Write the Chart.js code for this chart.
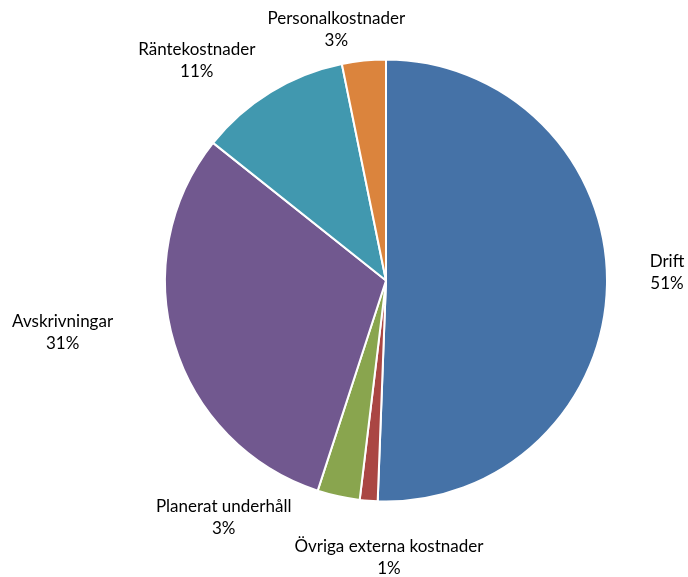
<!DOCTYPE html>
<html>
<head>
<meta charset="utf-8">
<script src="https://cdn.jsdelivr.net/npm/chart.js@4/dist/chart.umd.min.js"></script>
<style>
  html, body { margin: 0; padding: 0; background: #fff; }
  #wrap { width: 688px; height: 577px; position: relative; }
</style>
</head>
<body>
<div id="wrap"><canvas id="pie-chart"></canvas></div>
<script>
var labels = ['Drift', 'Övriga externa kostnader', 'Planerat underhåll', 'Avskrivningar', 'Räntekostnader', 'Personalkostnader'];
var values = [50.6, 1.3, 3.1, 30.7, 11.1, 3.2];
var percentLabels = ['51%', '1%', '3%', '31%', '11%', '3%'];
var colors = ['#4572A7', '#AA4643', '#89A54E', '#71588F', '#4198AF', '#DB843D'];

// where each data label sits: [angle in degrees clockwise from top, distance in radii]
var labelSpots = [[88.4, 1.272], [179.4, 1.252], [214.4, 1.300], [260.9, 1.482], [319.3, 1.313], [348.8, 1.158]];

var outsideLabels = {
  id: 'outsideLabels',
  afterDatasetsDraw: function(chart) {
    var ctx = chart.ctx;
    var arc = chart.getDatasetMeta(0).data[0];
    var cx = arc.x, cy = arc.y, r = arc.outerRadius;
    ctx.save();
    ctx.font = '17px Lato, "Open Sans", sans-serif';
    ctx.fillStyle = '#000';
    ctx.textAlign = 'center';
    ctx.textBaseline = 'middle';
    labelSpots.forEach(function(s, i) {
      var a = s[0] * Math.PI / 180;
      var x = cx + Math.sin(a) * r * s[1];
      var y = cy - Math.cos(a) * r * s[1];
      ctx.fillText(labels[i], x, y - 11);
      ctx.fillText(percentLabels[i], x, y + 11);
    });
    ctx.restore();
  }
};

var config = {
  type: 'pie',
  data: {
    labels: labels,
    datasets: [
      {
        data: values,
        backgroundColor: colors,
        borderColor: '#fff',
        borderWidth: 2
      }
    ]
  },
  options: {
    responsive: true,
    maintainAspectRatio: false,
    animation: false,
    layout: {
      padding: { left: 164, right: 80, top: 58, bottom: 74 }
    },
    plugins: {
      legend: { display: false },
      tooltip: { enabled: false }
    }
  },
  plugins: [outsideLabels]
};

var ctx = document.getElementById('pie-chart').getContext('2d');
var myPie = new Chart(ctx, config);
</script>
</body>
</html>
